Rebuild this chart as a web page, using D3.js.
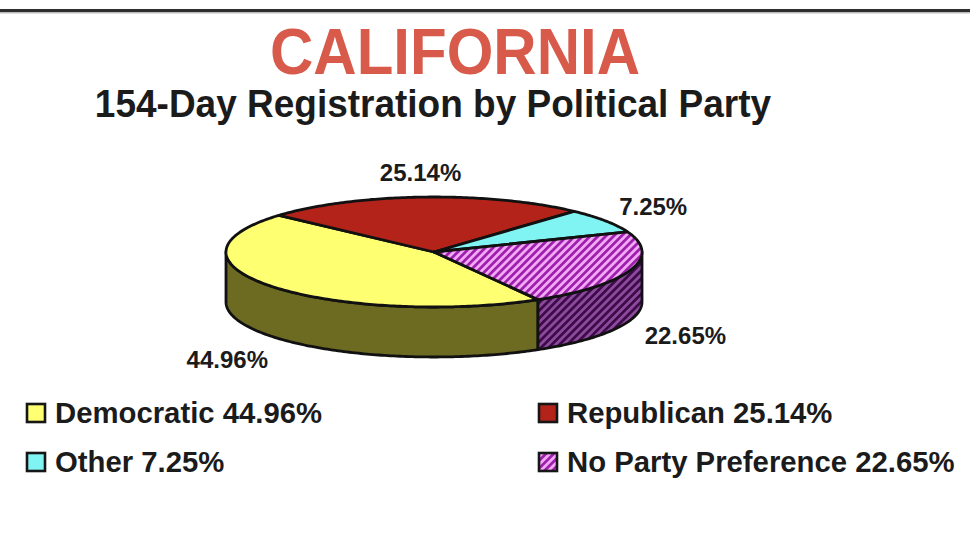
<!DOCTYPE html>
<html>
<head>
<meta charset="utf-8">
<script src="https://cdn.jsdelivr.net/npm/d3@7"></script>
<style>
  html, body { margin: 0; padding: 0; background: #fff; }
  svg { display: block; font-family: 'Liberation Sans', Arial, sans-serif; font-weight: bold; }
</style>
</head>
<body>
<svg id="chart" width="970" height="544"></svg>
<script>
const parties = ['Democratic', 'Republican', 'Other', 'No Party Preference'];
const shares = [44.96, 25.14, 7.25, 22.65];
const topColors = ['#ffff72', '#b3231a', '#80f3f3', 'url(#nppTop)'];
const sideColors = ['#6d6a22', '#6e120d', '#3f9a9a', 'url(#nppSide)'];
const legendOrder = [0, 1, 2, 3]; // row-major: Dem, Rep / Other, NPP

const width = 970;
const cx = 434, cy = 252, rx = 208, ry = 55, depth = 50;
const fmt = (v) => `${v.toFixed(2)}%`;

const svg = d3.select('#chart');

// stripe patterns for "No Party Preference"
const defs = svg.append('defs');
const stripes = (id, bg, fg) => {
  const p = defs.append('pattern')
    .attr('id', id)
    .attr('patternUnits', 'userSpaceOnUse')
    .attr('width', 5.5)
    .attr('height', 5.5)
    .attr('patternTransform', 'rotate(45)');
  p.append('rect').attr('width', 5.5).attr('height', 5.5).attr('fill', bg);
  p.append('rect').attr('width', 2.7).attr('height', 5.5).attr('fill', fg);
};
stripes('nppTop', '#f2a8f4', '#9c1eab');
stripes('nppSide', '#8c4a9c', '#3c0a48');

// thin rule at the very top
svg.append('rect')
  .attr('x', 0).attr('y', 9)
  .attr('width', width).attr('height', 3)
  .attr('fill', '#2e2e2e');
svg.append('rect')
  .attr('x', 0).attr('y', 12)
  .attr('width', width).attr('height', 1.5)
  .attr('fill', '#bbb');

// titles
svg.append('text')
  .attr('transform', 'translate(455,74) scale(1,1.08)')
  .attr('text-anchor', 'middle')
  .attr('font-size', 60)
  .attr('fill', '#d85a4b')
  .text('CALIFORNIA');

svg.append('text')
  .attr('transform', 'translate(433,117) scale(1,1.05)')
  .attr('text-anchor', 'middle')
  .attr('font-size', 37)
  .attr('fill', '#1b1b1b')
  .text('154-Day Registration by Political Party');

// 3D pie
const pie = d3.pie().sort(null).value((d) => d)
  .startAngle(150 * Math.PI / 180)
  .endAngle(150 * Math.PI / 180 + 2 * Math.PI);
const arcs = pie(shares);

const px = (a) => cx + rx * Math.sin(a);
const py = (a) => cy - ry * Math.cos(a);
const arcPts = (a0, a1, dy = 0) => {
  const n = Math.max(2, Math.ceil(Math.abs(a1 - a0) / 0.015));
  return d3.range(n + 1).map((i) => {
    const a = a0 + (a1 - a0) * i / n;
    return [px(a), py(a) + dy];
  });
};
const line = d3.line();

// front (visible) part of each slice wall
const visible = (a0, a1) => {
  const out = [];
  for (let k = -1; k <= 2; k++) {
    const lo = Math.PI / 2 + 2 * Math.PI * k;
    const hi = 3 * Math.PI / 2 + 2 * Math.PI * k;
    const s0 = Math.max(a0, lo), s1 = Math.min(a1, hi);
    if (s1 > s0) out.push([s0, s1]);
  }
  return out;
};

const sides = [];
arcs.forEach((d, i) => {
  visible(d.startAngle, d.endAngle).forEach(([s0, s1]) => sides.push({ i, s0, s1 }));
});

const g = svg.append('g');

g.selectAll('path.side')
  .data(sides)
  .enter()
  .append('path')
  .classed('side', true)
  .attr('d', (d) => line([...arcPts(d.s0, d.s1), ...arcPts(d.s0, d.s1, depth).reverse()]) + 'Z')
  .attr('fill', (d) => sideColors[d.i])
  .attr('stroke', '#111')
  .attr('stroke-width', 2.8)
  .attr('stroke-linejoin', 'round');

g.selectAll('path.top')
  .data(arcs)
  .enter()
  .append('path')
  .classed('top', true)
  .attr('d', (d) => line([[cx, cy], ...arcPts(d.startAngle, d.endAngle)]) + 'Z')
  .attr('fill', (d, i) => topColors[i])
  .attr('stroke', '#111')
  .attr('stroke-width', 2.8)
  .attr('stroke-linejoin', 'round');

// percentage labels around the pie
g.selectAll('text.lbl')
  .data(arcs)
  .enter()
  .append('text')
  .classed('lbl', true)
  .attr('x', (d) => cx + 1.28 * rx * Math.sin((d.startAngle + d.endAngle) / 2))
  .attr('y', (d) => {
    const c = Math.cos((d.startAngle + d.endAngle) / 2);
    return cy - 1.45 * ry * c + (c < 0 ? depth * 1.15 : 0);
  })
  .attr('dy', '0.36em')
  .attr('text-anchor', 'middle')
  .attr('font-size', 24)
  .attr('fill', '#1b1b1b')
  .text((d) => fmt(d.value));

// legend
const colX = d3.scalePoint().domain([0, 1]).range([26, 538]);
const rowY = d3.scalePoint().domain([0, 1]).range([403, 452]);

const item = svg.append('g')
  .selectAll('g')
  .data(legendOrder)
  .enter()
  .append('g')
  .attr('transform', (d, k) => `translate(${colX(k % 2)},${rowY(Math.floor(k / 2))})`);

item.append('rect')
  .attr('x', 1).attr('y', 1)
  .attr('width', 18).attr('height', 18)
  .attr('fill', (d) => topColors[d])
  .attr('stroke', '#161616')
  .attr('stroke-width', 2.6);

item.append('text')
  .attr('x', 29).attr('y', 20)
  .attr('font-size', 29.3)
  .attr('fill', '#1b1b1b')
  .text((d) => `${parties[d]} ${fmt(shares[d])}`);
</script>
</body>
</html>
